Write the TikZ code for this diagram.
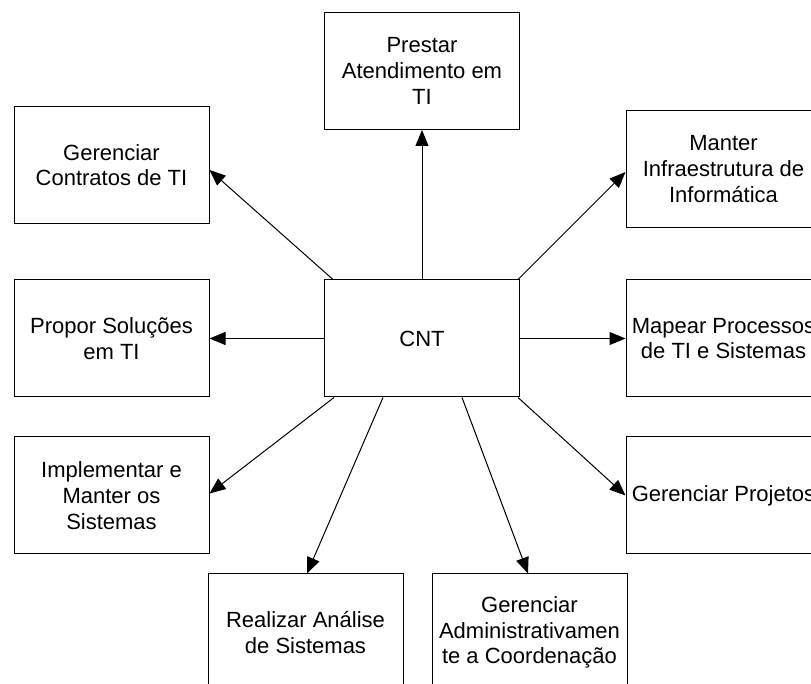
\documentclass[tikz,border=0pt]{standalone}
\usepackage{fontspec}
\setmainfont{Liberation Sans}
\usetikzlibrary{arrows.meta,calc}

\tikzset{
  unit/.style={draw, line width=0.5pt, minimum width=97.5pt, minimum height=58.5pt,
    align=center, inner sep=0pt, font=\fontsize{11}{12.85}\selectfont},
  link/.style={line width=0.5pt, -{Triangle[length=8pt,width=6.5pt]}}
}

\begin{document}
\begin{tikzpicture}[x=0.5pt,y=-0.5pt]
  \useasboundingbox (0,0) rectangle (811,684);
  \clip (0,0) rectangle (811,684);

  % Draw the central box
  \node[unit] (cnt) at (422,338.5) {CNT};

  % Draw the surrounding boxes
  \node[unit] (prestar) at (422,71) {Prestar\\Atendimento em\\TI};
  \node[unit] (contratos) at (111.5,165) {Gerenciar\\Contratos de TI};
  \node[unit] (manter) at (723.5,169) {Manter\\Infraestrutura de\\Informática};
  \node[unit] (propor) at (111.5,338.5) {Propor Soluções\\em TI};
  \node[unit] (mapear) at (723.5,338.5) {Mapear Processos\\de TI e Sistemas};
  \node[unit] (implementar) at (111.5,495.5) {Implementar e\\Manter os\\Sistemas};
  \node[unit] (projetos) at (723.5,495.5) {Gerenciar Projetos};
  \node[unit] (realizar) at (305.5,632.5) {Realizar Análise\\de Sistemas};
  \node[unit] (admin) at (529.5,632.5) {Gerenciar\\Administrativamen\\te a Coordenação};

  % Draw the arrows
  \draw[link] (cnt.north) -- (prestar.south);
  \draw[link] ($(cnt.north west)+(9,0)$) -- ($(contratos.east)+(0,5)$);
  \draw[link] ($(cnt.north east)+(-2,0)$) -- ($(manter.west)+(0,3)$);
  \draw[link] (cnt.west) -- (propor.east);
  \draw[link] (cnt.east) -- (mapear.west);
  \draw[link] ($(cnt.south west)+(10,0)$) -- ($(implementar.east)+(0,-2)$);
  \draw[link] ($(cnt.south)+(-39,0)$) -- ($(realizar.north)+(1.5,0)$);
  \draw[link] ($(cnt.south)+(40,0)$) -- ($(admin.north)+(-1.5,0)$);
  \draw[link] ($(cnt.south east)+(-2,0)$) -- (projetos.west);

\end{tikzpicture}
\end{document}
